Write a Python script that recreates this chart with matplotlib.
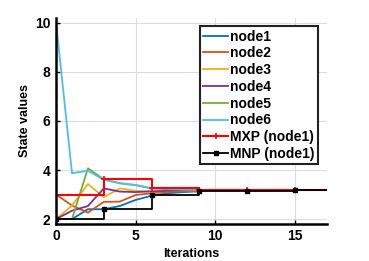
import numpy as np
import matplotlib
matplotlib.use("Agg")
import matplotlib.pyplot as plt

# node states per iteration (0..9)
iters = [0, 1, 2, 3, 4, 5, 6, 7, 8, 9]
node1 = [2.0, 2.0, 2.4, 2.4, 2.53, 2.78, 2.95, 3.05, 3.1, 3.13]
node2 = [3.0, 2.55, 2.26, 2.7, 2.71, 2.98, 3.05, 3.1, 3.13, 3.15]
node3 = [2.0, 2.55, 3.43, 2.89, 3.25, 3.15, 3.12, 3.14, 3.15, 3.16]
node4 = [2.0, 2.34, 2.53, 3.25, 3.12, 3.1, 3.13, 3.15, 3.16, 3.17]
node5 = [2.0, 2.0, 4.07, 3.62, 3.46, 3.38, 3.25, 3.22, 3.2, 3.19]
node6 = [10.0, 3.87, 3.97, 3.6, 3.46, 3.39, 3.26, 3.23, 3.21, 3.2]

# max / min propagation for node1 (every 3 iterations)
mp_iters = [0, 3, 6, 9, 12, 15, 18]
mxp = [3.0, 3.64, 3.28, 3.19, 3.17, 3.17, 3.17]
mnp = [2.0, 2.41, 3.0, 3.13, 3.16, 3.17, 3.17]

colors = ["#0072BD", "#D95319", "#EDB120", "#7E2F8E", "#77AC30", "#4DBEEE"]
nodes = [node1, node2, node3, node4, node5, node6]

plt.rcParams['font.family'] = ['Liberation Sans', 'DejaVu Sans']
plt.rcParams['font.weight'] = 'bold'

fig = plt.figure(figsize=(3.69, 2.61), dpi=100)
ax = fig.add_axes([0.152, 0.142, 0.733, 0.789])

for i, (vals, c) in enumerate(zip(nodes, colors)):
    ax.plot(iters, vals, color=c, lw=1.3, label="node%d" % (i + 1))

ax.plot(mp_iters, mxp, color="red", lw=1.5, drawstyle="steps-post",
        marker="+", ms=4, mew=1.2, label="MXP (node1)")
ax.plot(mp_iters, mnp, color="black", lw=1.3, drawstyle="steps-post",
        marker="s", ms=2.5, label="MNP (node1)")

ax.set_xlim(0, 17)
ax.set_ylim(1.8, 10.2)
ax.set_xticks([0, 5, 10, 15])
ax.set_yticks([2, 4, 6, 8, 10])
ax.grid(True, color="#dddddd", lw=0.8)
ax.set_axisbelow(True)
for s in ["top", "right"]:
    ax.spines[s].set_visible(False)
for s in ["left", "bottom"]:
    ax.spines[s].set_linewidth(1.8)
ax.tick_params(direction="in", length=3, width=1, labelsize=10, pad=4)
for lab in ax.get_xticklabels() + ax.get_yticklabels():
    lab.set_fontweight("bold")
ax.set_xlabel("Iterations", fontsize=9, fontweight="bold", labelpad=3)
ax.set_ylabel("State values", fontsize=9, fontweight="bold", labelpad=3)

leg = ax.legend(loc="upper right", bbox_to_anchor=(0.969, 0.961),
                prop={'weight': 'bold', 'size': 10}, handlelength=1.8,
                handletextpad=0.15, labelspacing=0.2, borderpad=0.25,
                fancybox=False, framealpha=1, borderaxespad=0)
leg.get_frame().set_edgecolor("#222222")
leg.get_frame().set_linewidth(1.5)

fig.savefig("out.png", dpi=100)
